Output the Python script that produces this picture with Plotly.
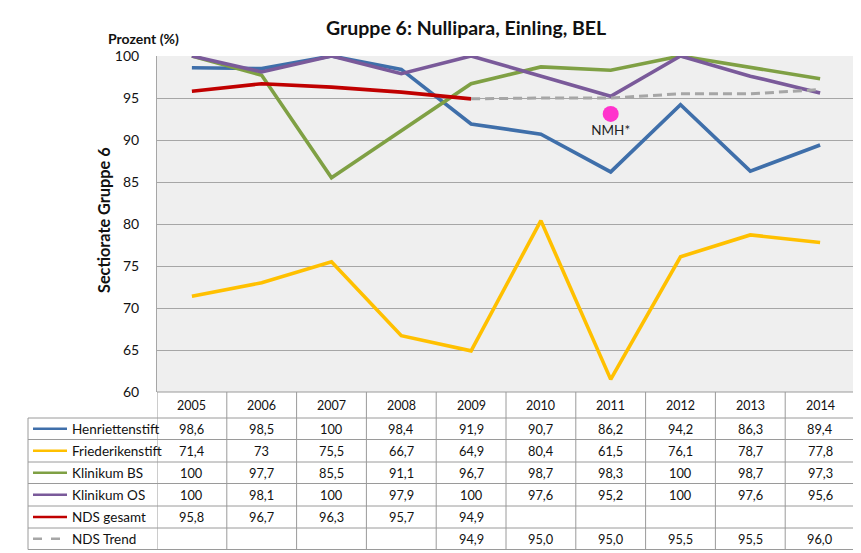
import plotly.graph_objects as go

years = [2005, 2006, 2007, 2008, 2009, 2010, 2011, 2012, 2013, 2014]
henriettenstift = [98.6, 98.5, 100, 98.4, 91.9, 90.7, 86.2, 94.2, 86.3, 89.4]
friederikenstift = [71.4, 73, 75.5, 66.7, 64.9, 80.4, 61.5, 76.1, 78.7, 77.8]
klinikum_bs = [100, 97.7, 85.5, 91.1, 96.7, 98.7, 98.3, 100, 98.7, 97.3]
klinikum_os = [100, 98.1, 100, 97.9, 100, 97.6, 95.2, 100, 97.6, 95.6]
nds_gesamt = [95.8, 96.7, 96.3, 95.7, 94.9, None, None, None, None, None]
nds_trend = [None, None, None, None, 94.9, 95.0, 95.0, 95.5, 95.5, 96.0]
nmh_year = [2011]
nmh_value = [93.1]
y_ticks = [60, 65, 70, 75, 80, 85, 90, 95, 100]

series = [
    ("Henriettenstift", henriettenstift, "#3F6FAA", "solid"),
    ("Friederikenstift", friederikenstift, "#FFC000", "solid"),
    ("Klinikum BS", klinikum_bs, "#7FA044", "solid"),
    ("Klinikum OS", klinikum_os, "#7A5A9A", "solid"),
    ("NDS gesamt", nds_gesamt, "#C00000", "solid"),
    ("NDS Trend", nds_trend, "#A6A6A6", "dash"),
]

# the page body has an 8px margin, so the figure is placed at (8, 8)
OFF = 8
W, H = 861 - OFF, 553 - OFF
FONT = "Lato, Liberation Sans, sans-serif"
x0px, x1px = 157, 855
ytop, ybot = 56, 392


def px(p):
    return (p - OFF) / W


def py(p):
    return 1 - (p - OFF) / H


def ann(x, y, text, size, xref="paper", xanchor="center", **kw):
    return dict(x=x, y=y, xref=xref, yref="paper", text=text, showarrow=False,
                xanchor=xanchor, yanchor="middle",
                font=dict(family=FONT, size=size, color="#111"), **kw)


fig = go.Figure()
for name, vals, col, dash in series:
    fig.add_trace(go.Scatter(
        x=years, y=vals, mode="lines", name=name,
        line=dict(color=col, width=3.6 if dash == "solid" else 3,
                  dash="solid" if dash == "solid" else "9px,5px"),
        connectgaps=False, showlegend=False, hoverinfo="skip"))

fig.add_trace(go.Scatter(
    x=nmh_year, y=nmh_value, mode="markers+text", text=["NMH*"],
    textposition="bottom center",
    textfont=dict(family=FONT, size=13.5, color="#222"),
    marker=dict(size=16, color="#FF33CC"), showlegend=False, hoverinfo="skip"))

shapes = []
annotations = []
gray = "#9a9a9a"

# table geometry
row_lines = [418, 439.5, 462, 483.5, 506, 528, 549.5]
label_left = 28
for k in range(len(years) + 1):
    xv = years[0] - 0.5 + k
    shapes.append(dict(type="line", xref="x", yref="paper", x0=xv, x1=xv, y0=py(ybot), y1=py(row_lines[-1]),
                       line=dict(color=gray, width=1)))
shapes.append(dict(type="line", xref="paper", yref="paper", x0=px(x0px), x1=px(x1px), y0=py(ybot), y1=py(ybot),
                   line=dict(color=gray, width=1)))
for r in row_lines:
    shapes.append(dict(type="line", xref="paper", yref="paper", x0=px(label_left), x1=px(x1px), y0=py(r), y1=py(r),
                       line=dict(color=gray, width=1)))
shapes.append(dict(type="line", xref="paper", yref="paper", x0=px(label_left), x1=px(label_left),
                   y0=py(row_lines[0]), y1=py(row_lines[-1]), line=dict(color=gray, width=1)))

for yr in years:
    annotations.append(ann(yr, py((ybot + row_lines[0]) / 2), str(yr), 12.5, xref="x"))


def fmt(v, trend):
    if v is None:
        return ""
    if trend:
        return f"{v:.1f}".replace(".", ",")
    if float(v).is_integer():
        return str(int(v))
    return f"{v}".replace(".", ",")


for i, (name, vals, col, dash) in enumerate(series):
    yc = py((row_lines[i] + row_lines[i + 1]) / 2)
    shapes.append(dict(type="line", xref="paper", yref="paper", x0=px(33), x1=px(67), y0=yc, y1=yc,
                       line=dict(color=col, width=2.5, dash="solid" if dash == "solid" else "dash")))
    annotations.append(ann(px(70), yc, name, 13.5, xanchor="left"))
    for yr, v in zip(years, vals):
        s = fmt(v, dash != "solid")
        if s:
            annotations.append(ann(yr, yc, s, 12.8, xref="x"))

annotations.append(ann(px(466), py(27), "<b>Gruppe 6: Nullipara, Einling, BEL</b>", 19.5))
annotations.append(ann(px(143), py(38.5), "<b>Prozent (%)</b>", 14))
annotations.append(ann(px(103), py(220), "<b>Sectiorate Gruppe 6</b>", 16.3, textangle=-90))

fig.update_layout(
    width=W, height=H, margin=dict(l=0, r=0, t=0, b=0, pad=0, autoexpand=False),
    paper_bgcolor="white", plot_bgcolor="#efefef",
    xaxis=dict(domain=[px(x0px), px(x1px)], range=[years[0] - 0.5, years[-1] + 0.5], automargin=False,
               showticklabels=False, showgrid=False, zeroline=False, showline=False, ticks=""),
    yaxis=dict(domain=[py(ybot), py(ytop)], range=[60, 100], tickvals=y_ticks, automargin=False,
               showgrid=True, gridcolor="#a6a6a6", gridwidth=1, zeroline=False,
               showline=True, linecolor="#a6a6a6", linewidth=1, ticks="",
               ticklabelstandoff=14, tickfont=dict(family=FONT, size=14, color="#111")),
    shapes=shapes, annotations=annotations,
)

fig.write_html("out.html")
